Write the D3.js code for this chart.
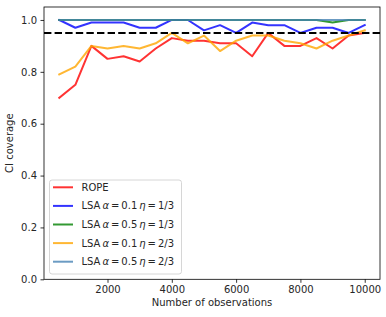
<!DOCTYPE html>
<html><head><meta charset="utf-8">
<script src="https://cdn.jsdelivr.net/npm/d3@7"></script>
<style>
body{margin:0;background:#fff;}
svg{display:block;font-family:"DejaVu Sans",sans-serif;}
</style></head>
<body><svg id="chart" width="386" height="317"></svg>
<script>
const observations = [500,1000,1500,2000,2500,3000,3500,4000,4500,5000,5500,6000,6500,7000,7500,8000,8500,9000,9500,10000];
const rope      = [0.70,0.75,0.90,0.85,0.86,0.84,0.89,0.93,0.92,0.92,0.91,0.91,0.86,0.95,0.90,0.90,0.93,0.89,0.94,0.95];
const lsaA01E13 = [1.00,0.97,0.99,0.99,0.99,0.97,0.97,1.00,1.00,0.96,0.98,0.95,0.99,0.98,0.98,0.95,0.97,0.97,0.95,0.98];
const lsaA05E13 = [1.00,1.00,1.00,1.00,1.00,1.00,1.00,1.00,1.00,1.00,1.00,1.00,1.00,1.00,1.00,1.00,1.00,0.99,1.00,1.00];
const lsaA01E23 = [0.79,0.82,0.90,0.89,0.90,0.89,0.91,0.95,0.91,0.94,0.88,0.92,0.94,0.94,0.92,0.91,0.89,0.92,0.94,0.96];
const lsaA05E23 = [1.00,1.00,1.00,1.00,1.00,1.00,1.00,1.00,1.00,1.00,1.00,1.00,1.00,1.00,1.00,1.00,1.00,1.00,1.00,1.00];
const threshold = 0.95;
const xTicks = [2000,4000,6000,8000,10000];
const yTicks = [0.0,0.2,0.4,0.6,0.8,1.0];
const seriesColors = ["#ff0000","#0000ff","#008000","#ffa500","#4682b4"];
const legendParts = [
  [["ROPE",false]],
  [["LSA ",false],["α",true],[" = 0.1 ",false],["η",true],[" = 1/3",false]],
  [["LSA ",false],["α",true],[" = 0.5 ",false],["η",true],[" = 1/3",false]],
  [["LSA ",false],["α",true],[" = 0.1 ",false],["η",true],[" = 2/3",false]],
  [["LSA ",false],["α",true],[" = 0.5 ",false],["η",true],[" = 2/3",false]]
];
const seriesValues = [rope,lsaA01E13,lsaA05E13,lsaA01E23,lsaA05E23];

const svg = d3.select("#chart");
const L=44, R=380, T=7, B=279.3;
const x = d3.scaleLinear().domain([25,10475]).range([L,R]);
const y = d3.scaleLinear().domain([0,1.05]).range([B,T]);

const g = svg.append("g");
const line = d3.line().x((d,i)=>x(observations[i])).y(d=>y(d));
seriesValues.forEach((vals,k)=>{
  g.append("path").attr("d",line(vals)).attr("fill","none")
   .attr("stroke",seriesColors[k]).attr("stroke-opacity",0.8)
   .attr("stroke-width",2).attr("stroke-linejoin","round").attr("stroke-linecap","square");
});
g.append("line").attr("x1",L).attr("x2",R).attr("y1",y(threshold)).attr("y2",y(threshold))
 .attr("stroke","#000").attr("stroke-width",2).attr("stroke-dasharray","7.4,3.2");

const xAxis = d3.axisBottom(x).tickValues(xTicks).tickFormat(d3.format("d")).tickSize(3.5).tickPadding(3.5);
const yAxis = d3.axisLeft(y).tickValues(yTicks).tickFormat(d3.format(".1f")).tickSize(3.5).tickPadding(3.5);
const gx = svg.append("g").attr("transform",`translate(0,${B})`).call(xAxis);
const gy = svg.append("g").attr("transform",`translate(${L},0)`).call(yAxis);
[gx,gy].forEach(a=>{
  a.select(".domain").remove();
  a.selectAll(".tick line").attr("stroke","#000").attr("stroke-width",0.8);
  a.selectAll(".tick text").attr("font-size",10).attr("fill","#262626").attr("font-family","DejaVu Sans");
});
svg.append("rect").attr("x",L).attr("y",T).attr("width",R-L).attr("height",B-T)
 .attr("fill","none").attr("stroke","#000").attr("stroke-width",0.8);

svg.append("text").attr("x",(L+R)/2).attr("y",306).attr("text-anchor","middle")
 .attr("font-size",10).attr("fill","#262626").text("Number of observations");
svg.append("text").attr("transform",`translate(13,${(T+B)/2}) rotate(-90)`).attr("text-anchor","middle")
 .attr("font-size",10).attr("fill","#262626").text("CI coverage");

const lg = svg.append("g");
lg.append("rect").attr("x",49.5).attr("y",180).attr("width",132).attr("height",94).attr("rx",2.5)
  .attr("fill","#fff").attr("fill-opacity",0.8).attr("stroke","#cccccc").attr("stroke-width",0.8);
const rowY = [187.3,205.9,224.5,243.1,261.7];
legendParts.forEach((parts,k)=>{
  lg.append("line").attr("x1",53).attr("x2",73).attr("y1",rowY[k]).attr("y2",rowY[k])
    .attr("stroke",seriesColors[k]).attr("stroke-opacity",0.8).attr("stroke-width",2);
  const t = lg.append("text").attr("x",81.5).attr("y",rowY[k]+3.5).attr("font-size",10).attr("fill","#262626")
    .attr("xml:space","preserve").attr("word-spacing", k>0 ? -1.2 : 0);
  parts.forEach(p=>{
    t.append("tspan").attr("font-style",p[1]?"italic":"normal").text(p[0]);
  });
});
</script></body></html>
